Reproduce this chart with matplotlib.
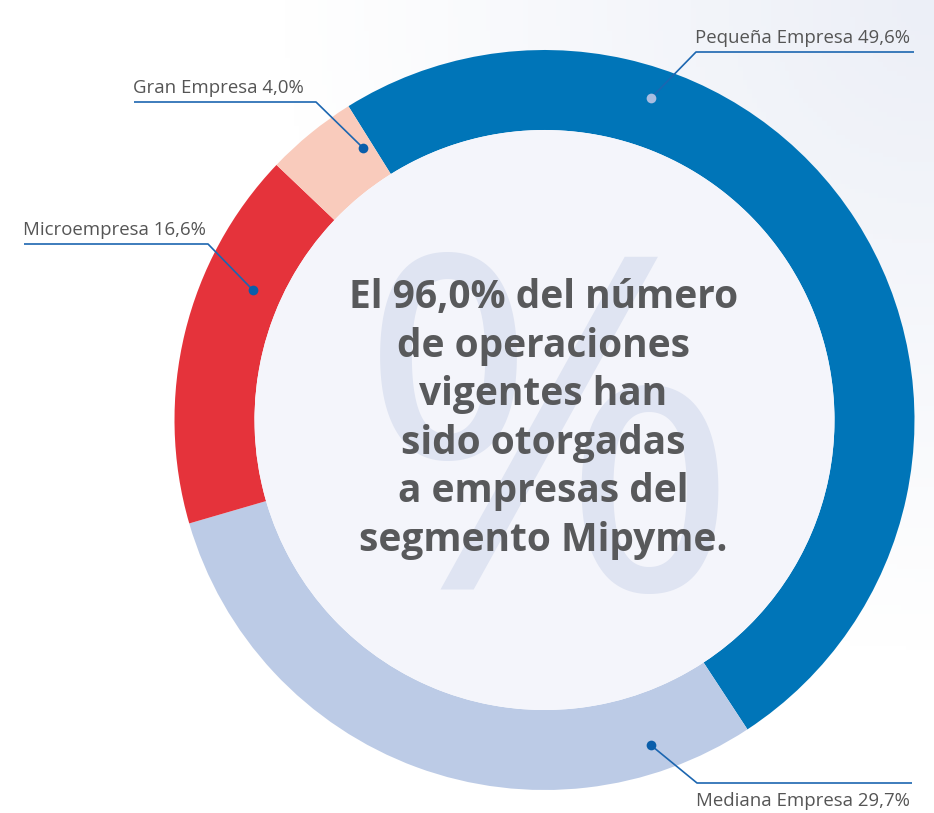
import numpy as np
import matplotlib
matplotlib.use("Agg")
import matplotlib.pyplot as plt
from matplotlib.patches import Circle
from matplotlib.colors import to_rgb

# data
segments = ["Pequeña Empresa", "Mediana Empresa", "Microempresa", "Gran Empresa"]
shares = [49.6, 29.7, 16.6, 4.0]
share_labels = ["49,6%", "29,7%", "16,6%", "4,0%"]
colors = ["#0075b8", "#bccbe6", "#e5333b", "#f9cbbc"]
center_text = ("El 96,0% del número\nde operaciones\nvigentes han\nsido otorgadas\n"
               "a empresas del\nsegmento Mipyme.")

W, H = 934, 813
cx, cy = 544.5, H - 420
r_out, r_in = 370, 290

fig = plt.figure(figsize=(W / 100, H / 100), dpi=100)
ax = fig.add_axes([0, 0, 1, 1])

# faint background tint towards the top-right corner
xx, yy = np.meshgrid(np.linspace(0, W, 200), np.linspace(0, H, 180))
d = np.hypot(xx - W, yy - H) / 650
w = np.clip(1 - d, 0, 1)[..., None]
tint = np.array(to_rgb("#eceff7"))
bg = (1 - w) * np.ones(3) + w * tint
ax.imshow(bg, extent=[0, W, 0, H], origin="lower", zorder=0, aspect="auto")

wedges, _ = ax.pie(shares, colors=colors, startangle=122, counterclock=False,
                   radius=r_out, center=(cx, cy),
                   wedgeprops=dict(width=r_out - r_in, linewidth=0))
for wdg in wedges:
    wdg.set_zorder(2)

ax.add_patch(Circle((cx, cy), r_in, facecolor="#f4f5fb", edgecolor="none", zorder=2))

# big watermark percent sign
ax.text(cx + 5, cy - 48, "%", fontsize=335, color="#dfe4f2", ha="center", va="center",
        family="Open Sans", zorder=3)

ax.text(cx - 1, cy + 1, center_text, fontsize=28, fontweight="bold", color="#58595b",
        ha="center", va="center", multialignment="center", linespacing=1.32,
        family="Open Sans", zorder=4)

# label layout: dot (angle, radius), elbow point, line end, text baseline
layout = [
    dict(ang=71.7, rad=339, elbow=(696, 52), end=(914, 52), text_y=43, dot="#a9bde1"),
    dict(ang=-71.9, rad=342, elbow=(697, 783), end=(912, 783), text_y=806, dot="#0a5eaa"),
    dict(ang=156.0, rad=319, elbow=(208, 244), end=(24, 244), text_y=235, dot="#0a5eaa"),
    dict(ang=123.7, rad=327, elbow=(316, 102), end=(134, 102), text_y=93, dot="#0a5eaa"),
]

for name, lab, lo in zip(segments, share_labels, layout):
    a = np.deg2rad(lo["ang"])
    px, py = cx + lo["rad"] * np.cos(a), cy + lo["rad"] * np.sin(a)
    ex, ey = lo["elbow"][0], H - lo["elbow"][1]
    fx, fy = lo["end"][0], H - lo["end"][1]
    ax.plot([px, ex, fx], [py, ey, fy], color="#1c66b0", lw=1.2, zorder=5,
            solid_capstyle="butt")
    ax.plot(px, py, "o", color=lo["dot"], ms=7, mec="none", zorder=6)
    x0 = min(ex, fx)
    ax.text(x0 - 1, H - lo["text_y"], f"{name} {lab}", fontsize=13.4,
            color="#555555", ha="left", va="baseline", family="Open Sans", zorder=6)

ax.set_xlim(0, W)
ax.set_ylim(0, H)
ax.set_aspect("equal")
ax.axis("off")

fig.savefig("out.png", dpi=100)
